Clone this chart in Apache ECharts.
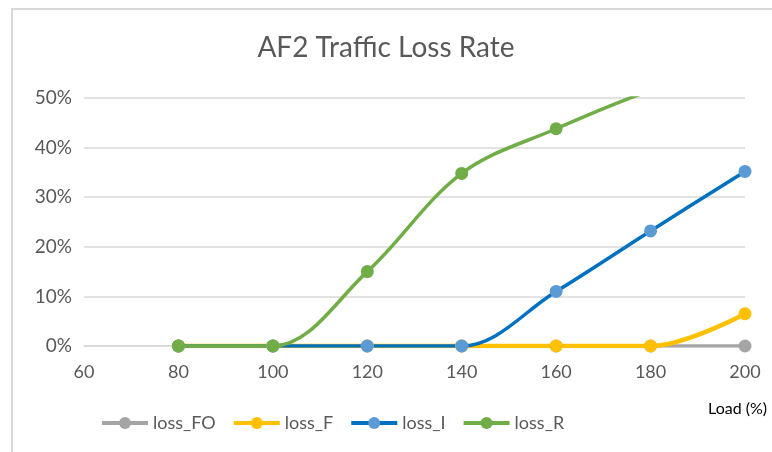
<!DOCTYPE html>
<html><head><meta charset="utf-8">
<script src="https://cdn.jsdelivr.net/npm/echarts@6/dist/echarts.min.js"></script>
<style>html,body{margin:0;padding:0;background:#fff}#c{width:772px;height:452px}</style>
</head><body><div id="c"></div>
<script>
const loads = [80, 100, 120, 140, 160, 180, 200];
const lossFO = [0, 0, 0, 0, 0, 0, 0];
const lossF = [0, 0, 0, 0, 0, 0, 6.5];
const lossI = [0, 0, 0, 0, 11.0, 23.2, 35.2];
const lossR = [0, 0, 15.0, 34.8, 43.8, 51.5, 57];
const yTicks = [0, 10, 20, 30, 40, 50];
const xTicks = [60, 80, 100, 120, 140, 160, 180, 200];

const FONT = 'Lato';
function pairs(vals){ return loads.map((x,i)=>[x, vals[i]]); }
function mk(name, vals, lineColor, markColor, width){
  return {name, type:'line', data:pairs(vals), smooth:0.35, symbol:'circle', symbolSize:13,
    lineStyle:{color:lineColor, width:width}, itemStyle:{color:markColor}, clip:true};
}
const chart = echarts.init(document.getElementById('c'), null, {renderer:'canvas'});
chart.setOption({
  animation:false,
  backgroundColor:'#fff',
  title:[{text:'AF2 Traffic Loss Rate', left:'center', top:29,
    textStyle:{fontFamily:FONT, fontSize:28, fontWeight:'normal', color:'#595959'}},
    {text:'Load (%)', left:703, top:396, textStyle:{fontFamily:FONT, fontSize:16, fontWeight:'normal', color:'#000'}}],
  grid:{left:84, right:27, top:98, bottom:106},
  legend:{bottom:15, left:95, itemWidth:46, itemHeight:15, itemGap:16,
    lineStyle:{width:4},
    textStyle:{fontFamily:FONT, fontSize:18, color:'#595959'},
    data:['loss_FO','loss_F','loss_I','loss_R']},
  xAxis:{type:'value', min:xTicks[0], max:xTicks[xTicks.length-1], interval:20,
    axisLine:{show:true, lineStyle:{color:'#D9D9D9', width:1.5}}, axisTick:{show:false},
    splitLine:{show:false},
    axisLabel:{fontFamily:FONT, fontSize:18, color:'#595959', margin:17}},
  yAxis:{type:'value', min:yTicks[0], max:yTicks[yTicks.length-1], interval:10,
    axisLine:{show:false}, axisTick:{show:false},
    splitLine:{lineStyle:{color:'#D9D9D9', width:1.5}},
    axisLabel:{fontFamily:FONT, fontSize:19, color:'#595959', margin:12, formatter:v=>v+'%'}},
  graphic:[
    {type:'line', shape:{x1:11, y1:9, x2:772, y2:9}, style:{stroke:'#D9D9D9', lineWidth:2}},
    {type:'line', shape:{x1:12, y1:9, x2:12, y2:452}, style:{stroke:'#D9D9D9', lineWidth:2}}
  ],
  series:[
    mk('loss_FO', lossFO, '#A5A5A5', '#A5A5A5', 3.5),
    mk('loss_F', lossF, '#FFC000', '#FFC000', 4.5),
    mk('loss_I', lossI, '#0070C0', '#5B9BD5', 3.5),
    mk('loss_R', lossR, '#70AD47', '#70AD47', 3.5)
  ]
});
</script></body></html>
